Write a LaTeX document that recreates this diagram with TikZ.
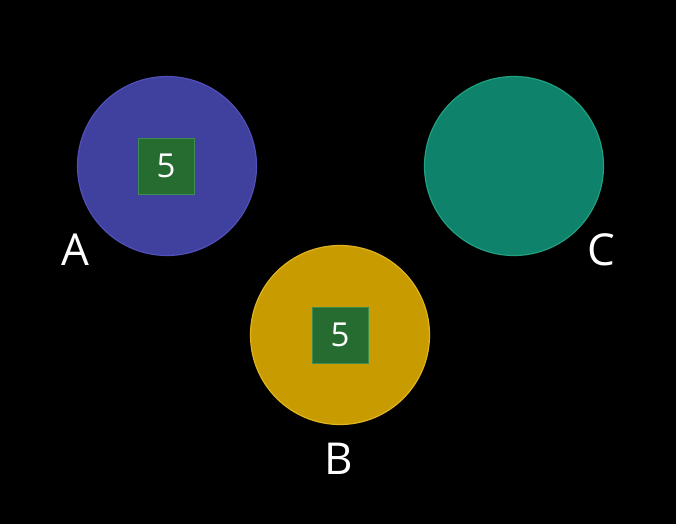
\documentclass[tikz,border=0pt]{standalone}
\usepackage{fontspec}
\setmainfont{Open Sans}
\definecolor{cA}{HTML}{40409E}
\definecolor{cAb}{HTML}{5050B8}
\definecolor{cB}{HTML}{C89C00}
\definecolor{cBb}{HTML}{E0B420}
\definecolor{cC}{HTML}{0E826A}
\definecolor{cCb}{HTML}{20A080}
\definecolor{sq}{HTML}{266B30}
\definecolor{sqb}{HTML}{3E8C50}
\tikzset{
  ball/.style={circle, minimum size=179pt, inner sep=0pt, line width=1.2pt},
  val/.style={rectangle, minimum size=56pt, inner sep=0pt, fill=sq, draw=sqb, line width=1pt, text=white, font=\fontsize{33}{33}\selectfont},
  lbl/.style={text=white, font=\fontsize{44}{44}\selectfont, inner sep=0pt}
}
\begin{document}
\begin{tikzpicture}[x=1pt,y=-1pt]
\fill[black] (0,0) rectangle (676,524);
\useasboundingbox (0,0) rectangle (676,524);
\node[ball, fill=cA, draw=cAb] (a) at (167,166) {};
\node[ball, fill=cC, draw=cCb] (c) at (514,166) {};
\node[ball, fill=cB, draw=cBb] (b) at (340,335) {};
\node[val] (va) at (166,166) {5};
\node[val] (vb) at (340,335) {5};
\node[lbl] (la) at (75,250) {A};
\node[lbl] (lc) at (601,250) {C};
\node[lbl] (lb) at (339,459) {B};
\end{tikzpicture}
\end{document}
